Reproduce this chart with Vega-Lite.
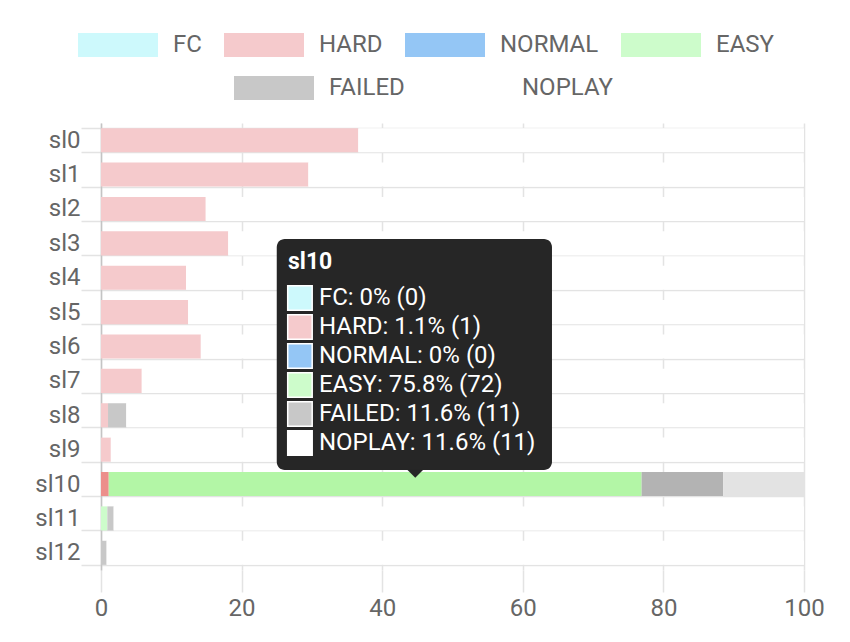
{
  "$schema": "https://vega.github.io/schema/vega-lite/v6.json",
  "width": 703,
  "height": 447,
  "autosize": {"type": "none"},
  "padding": {"left": 101, "top": 123, "right": 46, "bottom": 72},
  "background": "white",
  "config": {"view": {"stroke": null}, "font": "Roboto"},
  "datasets": {
    "bars": [
      {"row": "sl0", "status": "HARD", "pct": 36.6},
      {"row": "sl0", "status": "NOPLAY", "pct": 63.4},
      {"row": "sl1", "status": "HARD", "pct": 29.5},
      {"row": "sl1", "status": "NOPLAY", "pct": 70.5},
      {"row": "sl2", "status": "HARD", "pct": 14.9},
      {"row": "sl2", "status": "NOPLAY", "pct": 85.1},
      {"row": "sl3", "status": "HARD", "pct": 18.1},
      {"row": "sl3", "status": "NOPLAY", "pct": 81.9},
      {"row": "sl4", "status": "HARD", "pct": 12.1},
      {"row": "sl4", "status": "NOPLAY", "pct": 87.9},
      {"row": "sl5", "status": "HARD", "pct": 12.4},
      {"row": "sl5", "status": "NOPLAY", "pct": 87.6},
      {"row": "sl6", "status": "HARD", "pct": 14.2},
      {"row": "sl6", "status": "NOPLAY", "pct": 85.8},
      {"row": "sl7", "status": "HARD", "pct": 5.8},
      {"row": "sl7", "status": "NOPLAY", "pct": 94.2},
      {"row": "sl8", "status": "HARD", "pct": 1.0},
      {"row": "sl8", "status": "FAILED", "pct": 2.6},
      {"row": "sl8", "status": "NOPLAY", "pct": 96.4},
      {"row": "sl9", "status": "HARD", "pct": 1.4},
      {"row": "sl9", "status": "NOPLAY", "pct": 98.6},
      {"row": "sl10", "status": "FC", "pct": 0, "count": 0},
      {"row": "sl10", "status": "HARD", "pct": 1.1, "count": 1},
      {"row": "sl10", "status": "NORMAL", "pct": 0, "count": 0},
      {"row": "sl10", "status": "EASY", "pct": 75.8, "count": 72},
      {"row": "sl10", "status": "FAILED", "pct": 11.6, "count": 11},
      {"row": "sl10", "status": "NOPLAY", "pct": 11.6, "count": 11},
      {"row": "sl11", "status": "EASY", "pct": 0.9},
      {"row": "sl11", "status": "FAILED", "pct": 0.9},
      {"row": "sl11", "status": "NOPLAY", "pct": 98.2},
      {"row": "sl12", "status": "FAILED", "pct": 0.8},
      {"row": "sl12", "status": "NOPLAY", "pct": 99.2}
    ]
  },
  "data": {"name": "bars"},
  "layer": [
    {
      "transform": [
        {"calculate": "indexof(['FC','HARD','NORMAL','EASY','FAILED','NOPLAY'], datum.status)", "as": "k"},
        {"calculate": "datum.row === 'sl10' ? datum.status + '*' : datum.status", "as": "key"}
      ],
      "mark": {"type": "bar", "strokeWidth": 0},
      "encoding": {
        "y": {
          "field": "row",
          "type": "nominal",
          "sort": ["sl0","sl1","sl2","sl3","sl4","sl5","sl6","sl7","sl8","sl9","sl10","sl11","sl12"],
          "scale": {"paddingInner": 0.3, "paddingOuter": 0.15},
          "axis": {
            "title": null,
            "tickBand": "extent",
            "grid": true,
            "gridColor": "#e3e3e3",
            "gridWidth": 1.5,
            "tickColor": "#e3e3e3",
            "tickWidth": 1.5,
            "tickSize": 20,
            "labelFontSize": 24,
            "labelColor": "#666666",
            "labelPadding": 1,
            "domainColor": "#c4c4c4",
            "domainWidth": 1.5
          }
        },
        "x": {
          "field": "pct",
          "type": "quantitative",
          "stack": "zero",
          "scale": {"domain": [0, 100], "clamp": true, "nice": false},
          "axis": {
            "title": null,
            "values": [0, 20, 40, 60, 80, 100],
            "grid": true,
            "gridColor": "#e3e3e3",
            "gridWidth": 1.5,
            "tickColor": "#e3e3e3",
            "tickWidth": 1.5,
            "tickSize": 22,
            "labelFontSize": 24,
            "labelColor": "#666666",
            "labelPadding": 4,
            "labelFlush": false,
            "domain": false
          }
        },
        "fill": {
          "field": "key",
          "type": "nominal",
          "scale": {
            "domain": ["FC","HARD","NORMAL","EASY","FAILED","NOPLAY","FC*","HARD*","NORMAL*","EASY*","FAILED*","NOPLAY*"],
            "range": ["#cdf9fc","#f5cacc","#94c6f5","#cdfccb","#c8c8c8","#ffffff","#9ef0f5","#ec8f8b","#5fa8ee","#b3f6a6","#b3b3b3","#e3e3e3"]
          },
          "legend": {
            "orient": "none",
            "legendX": -23,
            "legendY": -118,
            "direction": "horizontal",
            "columns": 4,
            "values": ["FC","HARD","NORMAL","EASY"],
            "title": null,
            "padding": 0,
            "symbolType": "M-1,-0.3H1V0.3H-1Z",
            "symbolSize": 6400,
            "symbolStrokeWidth": 0,
            "symbolOpacity": 1,
            "labelFontSize": 24,
            "labelColor": "#666666",
            "labelOffset": 15,
            "columnPadding": 22
          }
        },
        "order": {"field": "k", "type": "quantitative"}
      }
    },
    {
      "layer": [
        {
          "data": {"values": [{}]},
          "mark": {"type": "rect", "cornerRadius": 8, "fill": "#262626"},
          "encoding": {
            "x": {"datum": 25.0, "type": "quantitative"},
            "x2": {"datum": 64.15},
            "y": {"datum": 3.37, "type": "quantitative", "scale": {"domain": [0, 13], "reverse": true, "nice": false, "zero": false}, "axis": null},
            "y2": {"datum": 10.09}
          }
        },
        {
          "data": {"values": [{}]},
          "mark": {"type": "point", "shape": "M-1,-0.5L1,-0.5L0,0.5Z", "size": 256, "filled": true, "fill": "#262626", "opacity": 1, "strokeWidth": 0},
          "encoding": {
            "x": {"datum": 44.7, "type": "quantitative"},
            "y": {"datum": 10.2, "type": "quantitative", "scale": {"domain": [0, 13], "reverse": true, "nice": false, "zero": false}, "axis": null}
          }
        },
        {
          "data": {"values": [{}]},
          "mark": {"type": "text", "text": "sl10", "align": "left", "baseline": "middle", "fontSize": 23, "fontWeight": "bold", "fill": "#ffffff"},
          "encoding": {
            "x": {"datum": 26.6, "type": "quantitative"},
            "y": {"datum": 4.04, "type": "quantitative", "scale": {"domain": [0, 13], "reverse": true, "nice": false, "zero": false}, "axis": null}
          }
        },
        {
          "transform": [{"filter": "datum.row === 'sl10'"}],
          "mark": {"type": "square", "size": 600, "filled": true, "opacity": 1, "stroke": "#ffffff", "strokeWidth": 1.5},
          "encoding": {
            "x": {"datum": 28.3, "type": "quantitative"},
            "y": {"field": "status", "type": "nominal", "scale": {"type": "point", "domain": ["FC","HARD","NORMAL","EASY","FAILED","NOPLAY"], "range": [175, 320], "padding": 0}, "axis": null},
            "fill": {
              "field": "status",
              "type": "nominal",
              "scale": {"domain": ["FC","HARD","NORMAL","EASY","FAILED","NOPLAY"], "range": ["#cdf9fc","#f5cacc","#94c6f5","#cdfccb","#c8c8c8","#ffffff"]},
              "legend": {
                "orient": "none",
                "legendX": 133,
                "legendY": -75,
                "direction": "horizontal",
                "columns": 2,
                "values": ["FAILED","NOPLAY"],
                "title": null,
                "padding": 0,
                "symbolType": "M-1,-0.3H1V0.3H-1Z",
                "symbolSize": 6400,
                "symbolStrokeWidth": 0,
                "symbolOpacity": 1,
                "labelFontSize": 24,
                "labelColor": "#666666",
                "labelOffset": 15,
                "columnPadding": 22
              }
            }
          }
        },
        {
          "transform": [
            {"filter": "datum.row === 'sl10'"},
            {"calculate": "datum.status + ': ' + datum.pct + '% (' + datum.count + ')'", "as": "tip"}
          ],
          "mark": {"type": "text", "align": "left", "baseline": "middle", "fontSize": 24, "fill": "#ffffff"},
          "encoding": {
            "x": {"datum": 31.0, "type": "quantitative"},
            "y": {"field": "status", "type": "nominal", "scale": {"type": "point", "domain": ["FC","HARD","NORMAL","EASY","FAILED","NOPLAY"], "range": [175, 320], "padding": 0}, "axis": null},
            "text": {"field": "tip"}
          }
        }
      ],
      "resolve": {"scale": {"y": "independent"}}
    }
  ],
  "resolve": {"scale": {"y": "independent", "fill": "independent"}}
}
